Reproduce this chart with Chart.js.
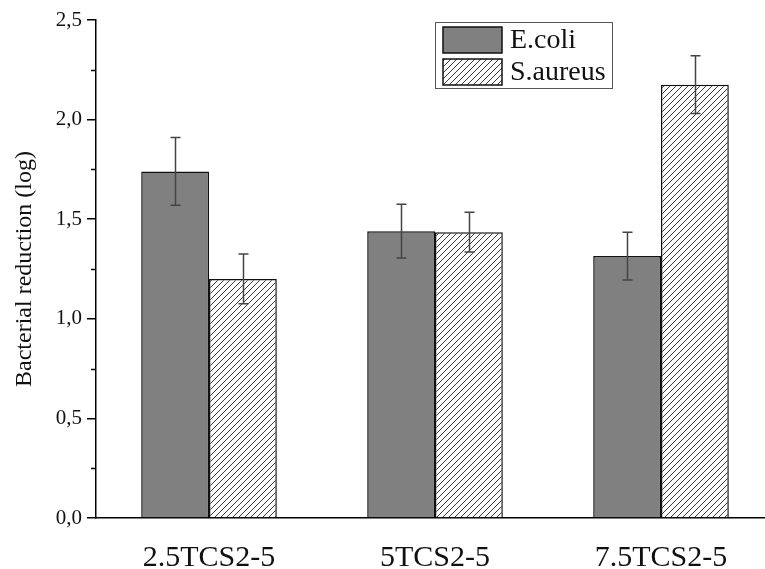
<!DOCTYPE html>
<html>
<head>
<meta charset="utf-8">
<script src="https://cdn.jsdelivr.net/npm/chart.js@4.4.1/dist/chart.umd.min.js"></script>
<style>
  html, body { margin: 0; padding: 0; background: #fff; overflow: hidden; }
  #wrap { position: relative; width: 780px; height: 569px; }
</style>
</head>
<body>
<div id="wrap"><canvas id="chart" width="780" height="569"></canvas></div>
<script>
var categories = ['2.5TCS2-5', '5TCS2-5', '7.5TCS2-5'];
var ecoli = [1.74, 1.44, 1.315];
var ecoliErr = [0.17, 0.135, 0.12];
var saureus = [1.2, 1.435, 2.175];
var saureusErr = [0.125, 0.10, 0.145];
var yMajor = [0, 0.5, 1, 1.5, 2, 2.5];
var yMinor = [0.25, 0.75, 1.25, 1.75, 2.25];

var serif = '"Liberation Serif", "DejaVu Serif", serif';

// diagonal hatch for S.aureus
function makeHatch(){
  var s = 6;
  var c = document.createElement('canvas');
  c.width = s; c.height = s;
  var g = c.getContext('2d');
  g.fillStyle = '#fff';
  g.fillRect(0, 0, s, s);
  g.strokeStyle = '#3a3a3a';
  g.lineWidth = 1;
  g.beginPath();
  g.moveTo(-1, s + 1); g.lineTo(s + 1, -1);
  g.moveTo(-1, 1); g.lineTo(1, -1);
  g.moveTo(s - 1, s + 1); g.lineTo(s + 1, s - 1);
  g.stroke();
  return g.createPattern(c, 'repeat');
}
var ctx = document.getElementById('chart').getContext('2d');
var hatch = makeHatch();

var errorBars = {
  id: 'errorBars',
  afterDatasetsDraw: function(chart){
    var c = chart.ctx;
    var y = chart.scales.y;
    var errs = [ecoliErr, saureusErr];
    c.save();
    c.strokeStyle = '#444';
    c.lineWidth = 1.5;
    chart.data.datasets.forEach(function(ds, di){
      var meta = chart.getDatasetMeta(di);
      meta.data.forEach(function(bar, i){
        var v = ds.data[i];
        var e = errs[di][i];
        var x = Math.round(bar.x) + 0.5;
        var top = y.getPixelForValue(v + e);
        var bot = y.getPixelForValue(v - e);
        c.beginPath();
        c.moveTo(x, top); c.lineTo(x, bot);
        c.moveTo(x - 5, top); c.lineTo(x + 5, top);
        c.moveTo(x - 5, bot); c.lineTo(x + 5, bot);
        c.stroke();
      });
    });
    c.restore();
  }
};

var minorTicks = {
  id: 'minorTicks',
  afterDraw: function(chart){
    var c = chart.ctx;
    var y = chart.scales.y;
    var left = chart.chartArea.left;
    c.save();
    c.strokeStyle = '#000';
    c.lineWidth = 1.5;
    yMinor.forEach(function(v){
      var py = Math.round(y.getPixelForValue(v)) + 0.5;
      c.beginPath();
      c.moveTo(left - 5, py); c.lineTo(left, py);
      c.stroke();
    });
    c.restore();
  }
};

var boxLegend = {
  id: 'boxLegend',
  afterDraw: function(chart){
    var c = chart.ctx;
    c.save();
    c.strokeStyle = '#555';
    c.lineWidth = 1;
    c.strokeRect(435.5, 22.5, 177, 66);
    var rows = [27, 59];
    c.font = '28px ' + serif;
    c.textBaseline = 'middle';
    chart.data.datasets.forEach(function(ds, i){
      var top = rows[i];
      c.fillStyle = ds.backgroundColor;
      c.fillRect(443, top, 59, 26);
      c.strokeStyle = '#111';
      c.lineWidth = 1.5;
      c.strokeRect(443, top, 59, 26);
      c.fillStyle = '#111';
      c.fillText(ds.label, 510, top + 14);
    });
    c.restore();
  }
};

new Chart(ctx, {
  type: 'bar',
  data: {
    labels: categories,
    datasets: [
      {
        label: 'E.coli',
        data: ecoli,
        backgroundColor: '#808080',
        borderColor: '#111',
        borderWidth: 1.5
      },
      {
        label: 'S.aureus',
        data: saureus,
        backgroundColor: hatch,
        borderColor: '#111',
        borderWidth: 1.5
      }
    ]
  },
  options: {
    responsive: false,
    animation: false,
    layout: { padding: { top: 20, right: 6, left: 0, bottom: 0 } },
    categoryPercentage: 0.6,
    barPercentage: 1.0,
    plugins: {
      legend: { display: false },
      tooltip: { enabled: false }
    },
    scales: {
      x: {
        grid: { display: false },
        border: { display: true, color: '#000', width: 1.5 },
        ticks: { color: '#111', padding: 14, font: { family: serif, size: 30 } },
        afterFit: function(s){ s.height = 51; }
      },
      y: {
        min: 0,
        max: 2.5,
        afterBuildTicks: function(s){
          s.ticks = yMajor.map(function(v){ return { value: v }; });
        },
        grid: { drawOnChartArea: false, drawTicks: true, tickLength: 9, color: '#000', lineWidth: 1.5 },
        border: { display: true, color: '#000', width: 1.5 },
        ticks: {
          color: '#111',
          padding: 5,
          font: { family: serif, size: 21 },
          callback: function(v){ return Number(v).toFixed(1).replace('.', ','); }
        },
        title: {
          display: true,
          text: 'Bacterial reduction (log)',
          color: '#111',
          font: { family: serif, size: 24 },
          padding: { top: 10, bottom: 0 }
        },
        afterFit: function(s){ s.width = 96; }
      }
    }
  },
  plugins: [errorBars, minorTicks, boxLegend]
});
</script>
</body>
</html>
